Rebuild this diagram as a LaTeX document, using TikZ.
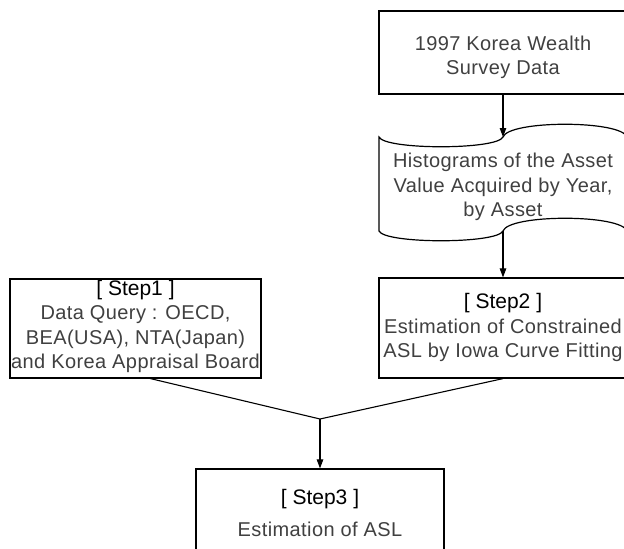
\documentclass[tikz,border=0pt]{standalone}
\usepackage{fontspec}
\setmainfont{Liberation Sans}[LetterSpace=2]
\newfontfamily\stepfont{Liberation Sans}
\usetikzlibrary{arrows.meta}
\definecolor{txtgray}{HTML}{404040}
\newcommand{\steplbl}[1]{{\stepfont\fontsize{21}{24}\selectfont\color{black}#1}}
\begin{document}
\begin{tikzpicture}[x=1pt,y=-1pt,
  box/.style={draw=black, line width=1.2pt, inner sep=0pt},
  txt/.style={align=center, font=\fontsize{20}{24.5}\selectfont, text=txtgray, inner sep=0pt},
  conn/.style={draw=black, line width=1.1pt, -{Triangle[length=9pt,width=6.5pt]}},
  plainline/.style={draw=black, line width=1.1pt}]
\useasboundingbox (0,0) rectangle (624,549);
\clip (0,0) rectangle (624,549);

% 1997 data box
\node[box, minimum width=248, minimum height=83] (A) at (503,52.5) {};
\node[txt] (At) at (503,57.5) {1997 Korea Wealth\\Survey Data};

% document shape
\draw[line width=1.2pt] (379,137) .. controls (385,150) and (497,150) .. (503,137)
  .. controls (509,120) and (621,120) .. (627,137) -- (627,231)
  .. controls (621,214) and (509,214) .. (503,231)
  .. controls (497,244) and (385,244) .. (379,231) -- cycle;
\node[txt] (B) at (503,187) {Histograms of the Asset\\Value Acquired by Year,\\by Asset};
\coordinate (Btop) at (503,137);
\coordinate (Bbot) at (503,231);

% Step2
\node[box, minimum width=248, minimum height=100] (C) at (503,328) {};
\node[txt] (Ct) at (503,327.5) {\steplbl{[ Step2 ]}\\Estimation of Constrained\\ASL by Iowa Curve Fitting};

% Step1
\node[box, minimum width=251, minimum height=99] (D) at (135.5,328.5) {};
\node[txt] (Dt) at (135.5,326.5) {\steplbl{[ Step1 ]}\\Data Query : OECD,\\BEA(USA), NTA(Japan)\\and Korea Appraisal Board};

% Step3
\node[box, minimum width=248, minimum height=91] (E) at (320,514.5) {};
\node[txt] (Et) at (320,513) {\steplbl{[ Step3 ]}\\[7pt]Estimation of ASL};

\coordinate (D1) at (148,378);
\coordinate (J) at (320,419);

\draw[conn] (A.south) -- (Btop);
\draw[conn] (Bbot) -- (C.north);
\draw[plainline] (D1) -- (J) -- (C.south);
\draw[conn] (J) -- (E.north);
\end{tikzpicture}
\end{document}
